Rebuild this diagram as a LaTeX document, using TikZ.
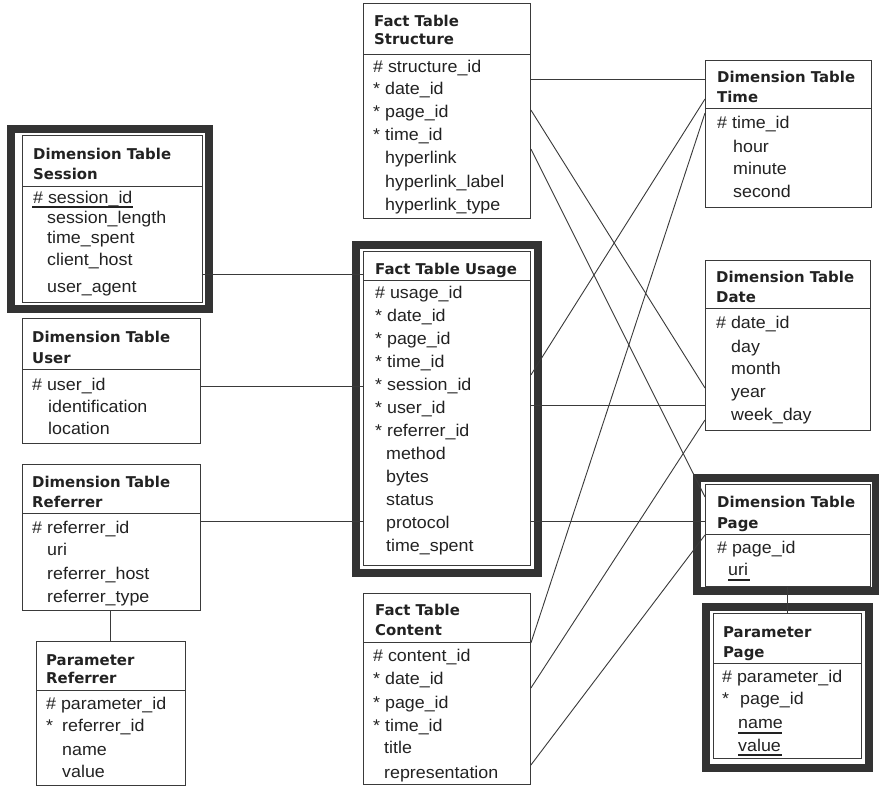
\documentclass[tikz,border=0pt]{standalone}
\usepackage{fontspec}
\setmainfont{Liberation Sans}[FakeStretch=1.05]
\newfontfamily\ttlfont{DejaVu Sans}
\definecolor{lc}{HTML}{3A3A3A}
\definecolor{bc}{HTML}{333333}
\definecolor{tc}{HTML}{222222}
\newcounter{tn}
\tikzset{
  tbox/.style={draw=lc, line width=0.9pt, inner sep=0pt, anchor=north west},
  band/.style={draw=bc, line width=8pt},
  conn/.style={draw=lc, line width=0.9pt},
  divl/.style={draw=lc, line width=0.9pt},
  uline/.style={draw=tc, line width=1.8pt},
  ttlst/.style={anchor=base west, inner sep=0pt, font=\ttlfont\bfseries\fontsize{14.9}{18}\selectfont, text=tc},
  itmst/.style={anchor=base west, inner sep=0pt, font=\fontsize{17}{20}\selectfont, text=tc},
}
\newcommand\mktbl[6]{%
  \pgfmathsetmacro\tw{#4-#2}\pgfmathsetmacro\th{#5-#3}%
  \node[tbox, minimum width=\tw pt, minimum height=\th pt] (#1) at (#2,#3) {};
  \draw[divl] (#2,#6) -- (#4,#6);
}
\newcommand\mkttl[3]{\stepcounter{tn}\node[ttlst] (t\arabic{tn}) at (#1,#2) {#3};}
\newcommand\mkitm[3]{\stepcounter{tn}\node[itmst] (t\arabic{tn}) at (#1,#2) {#3};}
\begin{document}
\begin{tikzpicture}[x=1pt,y=-1pt]
\useasboundingbox (0,0) rectangle (879,787);
\fill[white] (0,0) rectangle (879,787);
% thick frames
\draw[band] (11,129) rectangle (209,308.5);
\draw[band] (355.5,244.5) rectangle (537.5,572.5);
\draw[band] (697,478) rectangle (876,591);
\draw[band] (706,606.5) rectangle (869,767.5);
% tables
\mktbl{struct}{363}{3}{530}{218}{54}
\mktbl{session}{22}{135}{202}{302}{186}
\mktbl{usage}{363}{251}{530}{565}{280}
\mktbl{user}{22}{318}{200}{443}{369}
\mktbl{referrer}{22}{464}{200}{610}{513}
\mktbl{pref}{36}{641}{185}{785}{690}
\mktbl{content}{363}{593}{530}{784}{642}
\mktbl{time}{705}{60}{871}{207}{108}
\mktbl{date}{705}{260}{870}{430}{308}
\mktbl{page}{705}{484}{870}{586}{534}
\mktbl{ppage}{713}{613}{861}{758}{663}
% connectors
\draw[conn] (session.east |- 0,274) -- (usage.west |- 0,274);
\draw[conn] (user.east |- 0,386) -- (usage.west |- 0,386);
\draw[conn] (referrer.east |- 0,521) -- (usage.west |- 0,521);
\draw[conn] (referrer.south -| 110,0) -- (pref.north -| 110,0);
\draw[conn] (struct.east |- 0,79) -- (time.west |- 0,79);
\draw[conn] (struct.east |- 0,110) -- (date.west |- 0,388);
\draw[conn] (struct.east |- 0,149) -- (page.west |- 0,497);
\draw[conn] (usage.east |- 0,375) -- (time.west |- 0,99);
\draw[conn] (usage.east |- 0,405) -- (date.west |- 0,405);
\draw[conn] (usage.east |- 0,521) -- (page.west |- 0,521);
\draw[conn] (content.east |- 0,643) -- (time.west |- 0,113);
\draw[conn] (content.east |- 0,688) -- (date.west |- 0,420);
\draw[conn] (content.east |- 0,765) -- (page.west |- 0,535);
\draw[conn] (page.south -| 787,0) -- (ppage.north -| 787,0);
% Fact Table Structure
\mkttl{374}{27}{Fact Table}
\mkttl{374}{45}{Structure}
\mkitm{373}{72}{\# structure\_id}
\mkitm{373}{94}{* date\_id}
\mkitm{373}{117}{* page\_id}
\mkitm{373}{140}{* time\_id}
\mkitm{385}{163}{hyperlink}
\mkitm{385}{187}{hyperlink\_label}
\mkitm{385}{210}{hyperlink\_type}
% Session
\mkttl{33}{159}{Dimension Table}
\mkttl{33}{179}{Session}
\mkitm{33}{203}{\# session\_id}
\draw[uline] (32,207) -- (133,207);
\mkitm{47}{223}{session\_length}
\mkitm{47}{243}{time\_spent}
\mkitm{47}{265}{client\_host}
\mkitm{47}{292}{user\_agent}
% Usage
\mkttl{375}{274}{Fact Table Usage}
\mkitm{375}{298}{\# usage\_id}
\mkitm{375}{321}{* date\_id}
\mkitm{375}{344}{* page\_id}
\mkitm{375}{367}{* time\_id}
\mkitm{375}{390}{* session\_id}
\mkitm{375}{413}{* user\_id}
\mkitm{375}{436}{* referrer\_id}
\mkitm{386}{459}{method}
\mkitm{386}{482}{bytes}
\mkitm{386}{505}{status}
\mkitm{386}{528}{protocol}
\mkitm{386}{551}{time\_spent}
% User
\mkttl{32}{342}{Dimension Table}
\mkttl{32}{363}{User}
\mkitm{32}{390}{\# user\_id}
\mkitm{48}{412}{identification}
\mkitm{48}{434}{location}
% Referrer
\mkttl{32}{487}{Dimension Table}
\mkttl{32}{507}{Referrer}
\mkitm{32}{533}{\# referrer\_id}
\mkitm{47}{555}{uri}
\mkitm{47}{579}{referrer\_host}
\mkitm{47}{602}{referrer\_type}
% Parameter Referrer
\mkttl{46}{665}{Parameter}
\mkttl{46}{683}{Referrer}
\mkitm{46}{709}{\# parameter\_id}
\mkitm{46}{731}{*}
\mkitm{62}{731}{referrer\_id}
\mkitm{62}{755}{name}
\mkitm{62}{777}{value}
% Content
\mkttl{375}{615}{Fact Table}
\mkttl{375}{635}{Content}
\mkitm{373}{661}{\# content\_id}
\mkitm{373}{684}{* date\_id}
\mkitm{373}{708}{* page\_id}
\mkitm{373}{731}{* time\_id}
\mkitm{384}{753}{title}
\mkitm{384}{778}{representation}
% Time
\mkttl{717}{82}{Dimension Table}
\mkttl{717}{102}{Time}
\mkitm{717}{128}{\# time\_id}
\mkitm{733}{152}{hour}
\mkitm{733}{174}{minute}
\mkitm{733}{197}{second}
% Date
\mkttl{716}{282}{Dimension Table}
\mkttl{716}{302}{Date}
\mkitm{716}{328}{\# date\_id}
\mkitm{731}{352}{day}
\mkitm{731}{374}{month}
\mkitm{731}{397}{year}
\mkitm{731}{420}{week\_day}
% Page
\mkttl{717}{507}{Dimension Table}
\mkttl{717}{528}{Page}
\mkitm{717}{553}{\# page\_id}
\mkitm{728}{575}{uri}
\draw[uline] (728,580) -- (750,580);
% Parameter Page
\mkttl{723}{637}{Parameter}
\mkttl{723}{657}{Page}
\mkitm{722}{682}{\# parameter\_id}
\mkitm{722}{704}{*}
\mkitm{740}{704}{page\_id}
\mkitm{738}{728}{name}
\draw[uline] (738,733) -- (782,733);
\mkitm{738}{751}{value}
\draw[uline] (738,755) -- (782,755);
\end{tikzpicture}
\end{document}
